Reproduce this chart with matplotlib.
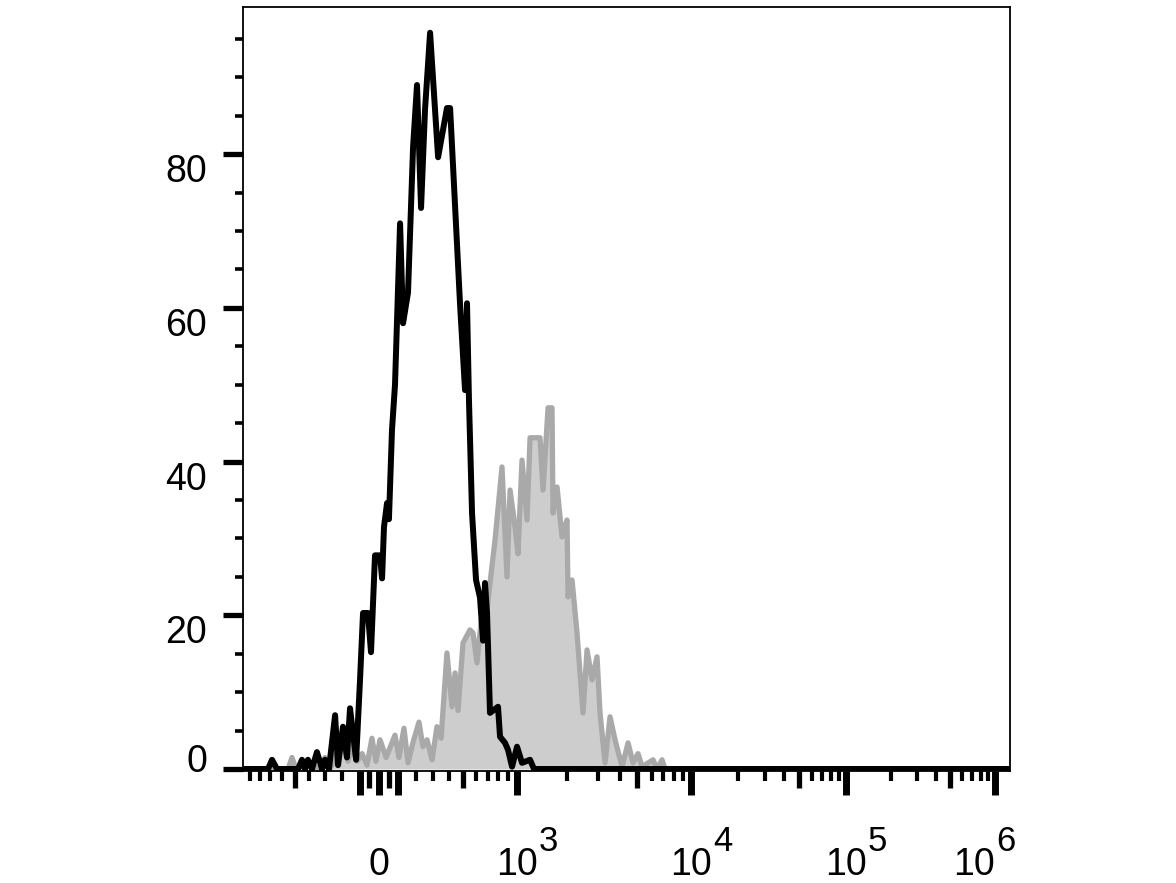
import matplotlib.pyplot as plt
import numpy as np

plt.rcParams['font.family'] = ['Liberation Sans', 'DejaVu Sans']

# histogram: fluorescence value, % of max
black_x = [-1000, -720, -684, -641, -476, -448, -427, -407, -380, -348, -316, -298,
           -274, -238, -221, -193, -171, -154, -121, -100, -84, -58, -42, -21, 5, 16,
           26, 42, 52, 68, 84, 111, 127, 154, 182, 204, 227, 250, 280, 329, 386, 407,
           476, 513, 528, 543, 567, 599, 632, 658, 675, 693, 720, 796, 816, 867, 899,
           943, 1000, 1074, 1203, 1271, 1.3e6]
black_y = [0, 0, 1.2, 0, 0, 1.2, 0, 1.2, 0, 2.2, 0, 1.2,
           0, 7.0, 0.5, 5.5, 1.5, 7.9, 1.2, 11.6, 20.3, 20.3, 15.2, 27.8, 27.8, 24.8,
           31.5, 34.6, 32.5, 44.1, 50.0, 71.0, 58.0, 62.0, 81.0, 89.0, 73.0, 85.8, 95.8, 79.6, 86.0, 86.0,
           60.6, 49.3, 60.6, 48.0, 33.3, 24.6, 22.3, 16.7, 24.2, 20.3, 7.3, 8.1, 4.2, 3.4, 2.5,
           0.3, 2.9, 0.8, 1.2, 0, 0]

gray_x = [-1000, -551, -521, -491, -393, -341, -298, -268, -221, -193, -165, -143,
          -116, -89, -63, -37, -16, 5, 37, 84, 105, 132, 154, 182, 215, 238, 262,
          292, 322, 348, 386, 420, 441, 462, 498, 551, 575, 607, 649, 684, 720, 767,
          836, 888, 921, 977, 1014, 1074, 1153, 1203, 1381, 1439, 1541, 1626, 1648,
          1740, 1860, 1988, 2015, 2125, 2270, 2457, 2590, 2766, 2953, 3071, 3279,
          3500, 3736, 4092, 4424, 4720, 5037, 5305, 6118, 6443, 6874, 7146, 1.3e6]
gray_y = [0, 0, 1.5, 0, 0.8, 0, 1.5, 0, 2.5, 3.5, 1.0, 3.0,
          1.0, 2.0, 0.5, 4.0, 1.0, 3.8, 1.5, 4.4, 1.5, 5.3, 0.8, 3.5, 6.1, 2.9, 3.8,
          1.2, 5.5, 4.0, 15.1, 8.1, 12.5, 7.6, 16.4, 18.1, 17.7, 13.8, 20.3, 19.5, 24.2, 29.8,
          39.3, 25.0, 36.3, 31.5, 28.0, 40.2, 32.4, 43.1, 43.1, 36.3, 47.0, 47.0, 33.3,
          36.7, 30.2, 32.4, 22.4, 24.6, 17.7, 7.3, 15.5, 11.6, 14.6, 7.3, 0.8,
          6.8, 3.8, 0.3, 3.4, 0.8, 2.0, 0.3, 1.2, 0, 1.2, 0, 0]

# x axis: biexponential style, asinh near zero and one width per decade
LIN_W = 500
decade_vals = [-1e8, -1e6, -1e5, -1e4, -1e3, 0, 1e3, 1e4, 1e5, 1e6, 1e8]
decade_pos = [-914, -616, -467, -312, -138, 0, 138, 312, 467, 616, 914]
decade_t = np.arcsinh(np.array(decade_vals) / LIN_W)


def biex(x):
    return np.interp(np.arcsinh(np.asarray(x, dtype=float) / LIN_W), decade_t, decade_pos)


def biex_inv(p):
    return LIN_W * np.sinh(np.interp(np.asarray(p, dtype=float), decade_pos, decade_t))


XMIN, XMAX = -977, 1.26e6

long_ticks = [-100, 0, 100, 1e3, 1e4, 1e5, 1e6]
mid_ticks = [-500, -50, 50, 500, 5e3, 5e4, 5e5]
small_ticks = [-900, -800, -700, -600, -400, -300, -200,
               200, 300, 400, 600, 700, 800, 900,
               2e3, 3e3, 4e3, 6e3, 7e3, 8e3, 9e3,
               2e4, 3e4, 4e4, 6e4, 7e4, 8e4, 9e4,
               2e5, 3e5, 4e5, 6e5, 7e5, 8e5, 9e5]

xlabel_vals = [0, 1e3, 1e4, 1e5, 1e6]
xlabel_base = ['0', '10', '10', '10', '10']
xlabel_exp = ['', '3', '4', '5', '6']

yticks = [0, 20, 40, 60, 80]
yminor = [5, 10, 15, 25, 30, 35, 45, 50, 55, 65, 70, 75, 85, 90, 95]

fig = plt.figure(figsize=(11.76, 8.83), dpi=100)
ax = fig.add_axes([243 / 1176, 1 - 771 / 883, 767 / 1176, 764 / 883])

ax.fill_between(gray_x, gray_y, 0, color='#cdcdcd', lw=0)
ax.plot(gray_x, gray_y, color='#a9a9a9', lw=3.8)
ax.plot(black_x, black_y, color='black', lw=4.3)

ax.set_xscale('function', functions=(biex, biex_inv))
ax.set_xlim(XMIN, XMAX)
ax.set_ylim(-0.26, 99.15)

for s in ax.spines.values():
    s.set_linewidth(1.3)

ax.set_xticks(long_ticks)
ax.set_xticks(small_ticks, minor=True)
ax.set_yticks(yticks)
ax.set_yticks(yminor, minor=True)
ax.tick_params(axis='x', which='major', direction='out', length=17, width=5,
               labelbottom=False)
ax.tick_params(axis='x', which='minor', direction='out', length=7.2, width=3)
ax.tick_params(axis='y', which='major', direction='out', length=14.4, width=3.8,
               labelleft=False)
ax.tick_params(axis='y', which='minor', direction='out', length=5.8, width=2.6)
ax.tick_params(top=False, right=False, which='both')

# medium length ticks on a twin axis with the same scale
ax2 = ax.twiny()
ax2.set_xscale('function', functions=(biex, biex_inv))
ax2.set_xlim(XMIN, XMAX)
ax2.set_xticks(mid_ticks)
ax2.set_xticks([], minor=True)
ax2.xaxis.set_ticks_position('bottom')
ax2.tick_params(axis='x', which='major', direction='out', length=12, width=3.8,
                labelbottom=False, labeltop=False)
for s in ax2.spines.values():
    s.set_visible(False)

# tick labels, exponent nearly the same size as the base
for v, base, ex in zip(xlabel_vals, xlabel_base, xlabel_exp):
    dx = -21 if v == 1e6 else 0
    ax.annotate(base, xy=(v, 0), xycoords=('data', 'axes fraction'),
                xytext=(dx, -104), textcoords='offset pixels',
                ha='center', va='baseline', fontsize=27, annotation_clip=False)
    if ex:
        ax.annotate(ex, xy=(v, 0), xycoords=('data', 'axes fraction'),
                    xytext=(dx + 22, -80), textcoords='offset pixels',
                    ha='left', va='baseline', fontsize=25, annotation_clip=False)

for v in yticks:
    dy = -3 if v == 0 else -28
    ax.annotate(str(v), xy=(0, v), xycoords=('axes fraction', 'data'),
                xytext=(-36, dy), textcoords='offset pixels',
                ha='right', va='baseline', fontsize=27, annotation_clip=False)

fig.savefig('out.png', dpi=100)
